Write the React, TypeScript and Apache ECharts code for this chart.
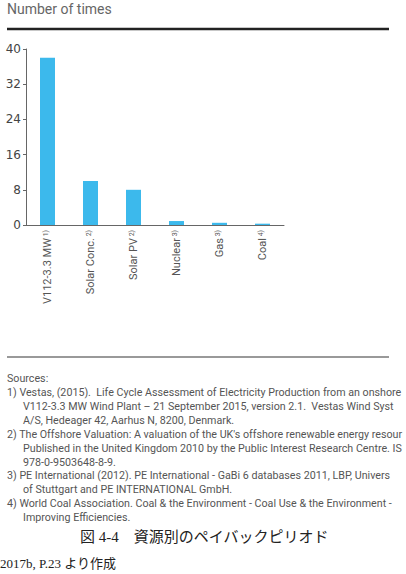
import React, { useEffect, useRef } from "react";
import * as echarts from "echarts";

const categories = ["V112-3.3 MW", "Solar Conc.", "Solar PV", "Nuclear", "Gas", "Coal"];
const refs = ["1)", "2)", "2)", "3)", "3)", "4)"];
const values = [38, 10, 8, 0.9, 0.5, 0.3];
const yTicks = [0, 8, 16, 24, 32, 40];

const unitLabel = "Number of times";
const sourceLines = [
  "Sources:",
  "1) Vestas, (2015).  Life Cycle Assessment of Electricity Production from an onshore",
  "    V112-3.3 MW Wind Plant \u2013 21 September 2015, version 2.1.  Vestas Wind Syst",
  "    A/S, Hedeager 42, Aarhus N, 8200, Denmark.",
  "2) The Offshore Valuation: A valuation of the UK's offshore renewable energy resour",
  "    Published in the United Kingdom 2010 by the Public Interest Research Centre. IS",
  "    978-0-9503648-8-9.",
  "3) PE International (2012). PE International - GaBi 6 databases 2011, LBP, Univers",
  "    of Stuttgart and PE INTERNATIONAL GmbH.",
  "4) World Coal Association. Coal & the Environment - Coal Use & the Environment -",
  "    Improving Efficiencies.",
];
const caption = "図 4-4　資源別のペイバックピリオド";
const footnote = "2017b, P.23 より作成";

export default function App() {
  const ref = useRef<HTMLDivElement>(null);
  useEffect(() => {
    if (!ref.current) return;
    const chart = echarts.init(ref.current, undefined, { renderer: "svg" });
    const lineYs = [378, 392, 406, 420, 434, 448, 462, 475, 489, 503, 517];
    const srcGraphics: any[] = sourceLines.map((t, i) => {
      const m = t.match(/^(\s+)(.*)$/);
      const indented = !!m;
      return {
        type: "text",
        x: indented ? 23 : 7,
        y: lineYs[i],
        style: {
          text: indented ? m![2] : t,
          fill: "#555",
          font: "10.7px Roboto, 'Noto Sans', sans-serif",
          textVerticalAlign: "middle",
        },
      };
    });
    chart.setOption({
      animation: false,
      grid: { left: 26, top: 49, width: 258, height: 176, containLabel: false },
      xAxis: {
        type: "category",
        data: categories,
        axisLine: { lineStyle: { color: "#666", width: 1 } },
        axisTick: { show: false },
        axisLabel: {
          rotate: 90,
          margin: 5,
          color: "#555",
          fontFamily: "Roboto, 'Noto Sans', sans-serif",
          fontSize: 11,
          formatter: (v: string, idx: number) => `{a|${v}}{s| ${refs[idx]}}`,
          rich: {
            a: { fontSize: 11, color: "#555", fontFamily: "Roboto, 'Noto Sans', sans-serif" },
            s: { fontSize: 7, color: "#555", verticalAlign: "top", fontFamily: "Roboto, 'Noto Sans', sans-serif" },
          },
        },
      },
      yAxis: {
        type: "value",
        min: yTicks[0],
        max: yTicks[yTicks.length - 1],
        interval: 8,
        splitLine: { show: false },
        axisLine: { show: true, lineStyle: { color: "#666", width: 1 } },
        axisTick: { show: true, length: 3, lineStyle: { color: "#666" } },
        axisLabel: {
          color: "#444",
          fontSize: 12,
          margin: 5,
          fontFamily: "'DejaVu Sans', sans-serif",
        },
      },
      series: [
        {
          type: "bar",
          data: values,
          barWidth: 15,
          itemStyle: { color: "#3CB9EC" },
        },
      ],
      graphic: [
        {
          type: "text",
          x: 7,
          y: 9,
          style: {
            text: unitLabel,
            fill: "#666",
            font: "14px Roboto, 'Noto Sans', sans-serif",
            textVerticalAlign: "middle",
          },
        },
        {
          type: "line",
          shape: { x1: 7, y1: 29, x2: 389, y2: 29 },
          style: { stroke: "#222", lineWidth: 2.5 },
        },
        {
          type: "line",
          shape: { x1: 7, y1: 357, x2: 389, y2: 357 },
          style: { stroke: "#777", lineWidth: 1.5 },
        },
        ...srcGraphics,
        {
          type: "text",
          x: 80,
          y: 537,
          style: {
            text: caption,
            fill: "#222",
            font: "15px 'Liberation Serif', 'Noto Sans CJK JP', serif",
            textVerticalAlign: "middle",
          },
        },
        {
          type: "text",
          x: 0,
          y: 563,
          style: {
            text: footnote,
            fill: "#222",
            font: "13px 'Liberation Serif', 'Noto Sans CJK JP', serif",
            textVerticalAlign: "middle",
          },
        },
      ],
    });
    return () => chart.dispose();
  }, []);
  return (
    <div
      ref={ref}
      style={{ position: "absolute", left: 0, top: 0, width: 406, height: 574, background: "#fff" }}
    />
  );
}
